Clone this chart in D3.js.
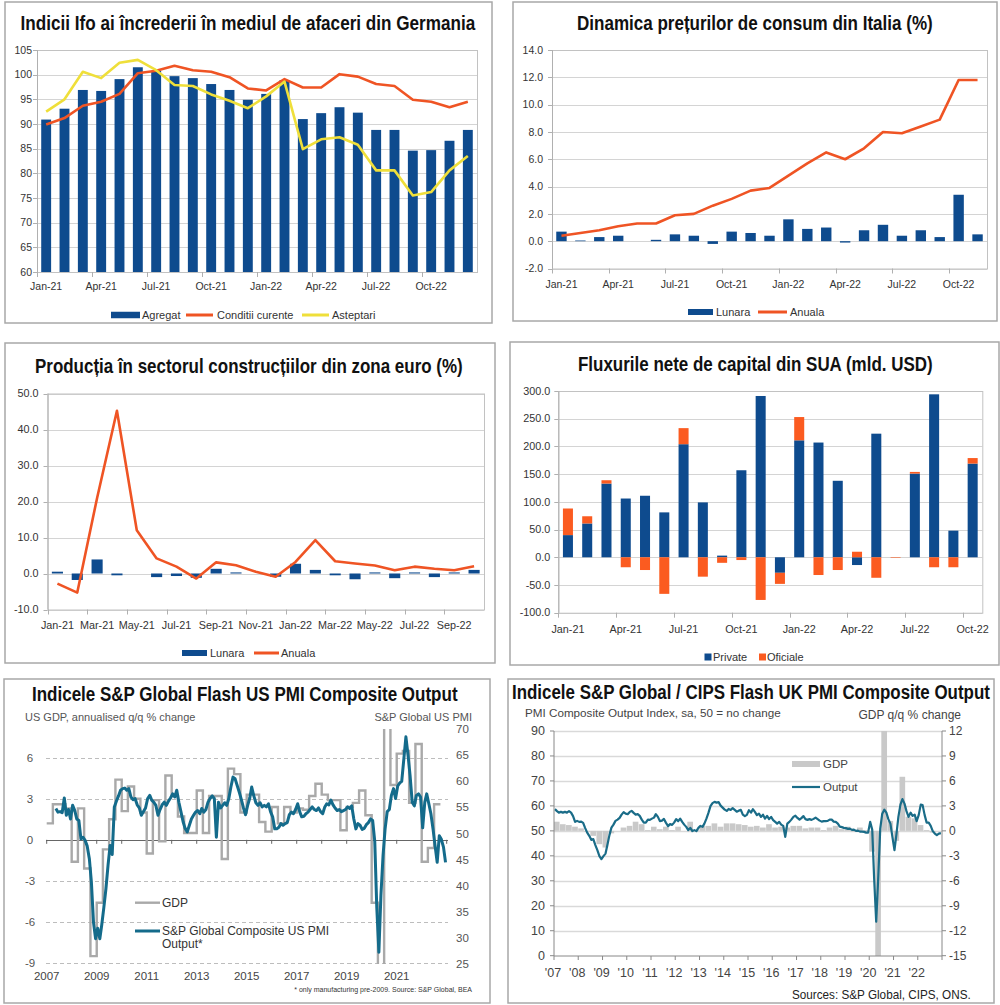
<!DOCTYPE html>
<html><head><meta charset="utf-8">
<script src="https://cdn.jsdelivr.net/npm/d3@7"></script>
<style>
body{margin:0;background:#fff}
svg{display:block}
text{font-family:'Liberation Sans',Arial,Helvetica,sans-serif}
</style>
</head><body>
<svg id="c" width="1000" height="1005"></svg>
<script>
// ---------------- DATA ----------------
// Panel 1: Ifo (Germany)
const ifoMonths = ["Jan-21","Feb-21","Mar-21","Apr-21","May-21","Jun-21","Jul-21","Aug-21","Sep-21","Oct-21","Nov-21","Dec-21","Jan-22","Feb-22","Mar-22","Apr-22","May-22","Jun-22","Jul-22","Aug-22","Sep-22","Oct-22","Nov-22","Dec-22"];
const ifoAgregat   = [90.9,93.1,96.9,96.7,99.1,101.5,100.8,99.7,99.3,98.1,96.9,94.9,96.1,98.9,91.0,92.2,93.4,92.3,88.8,88.8,84.6,84.7,86.6,88.8];
const ifoConditii  = [89.9,91.2,93.7,94.5,96.1,100.3,100.8,101.8,100.9,100.6,99.5,97.2,96.8,99.1,97.4,97.4,100.1,99.6,98.1,97.7,94.9,94.5,93.4,94.5];
const ifoAsteptari = [92.5,95.0,100.6,99.3,102.4,103.0,100.9,97.9,97.7,96.0,94.7,93.2,95.6,98.6,84.9,86.9,87.3,85.8,80.6,80.6,75.5,76.2,80.6,83.5];
const ifoTicks = [60,65,70,75,80,85,90,95,100,105];

// Panel 2: Italy CPI
const itMonths = ["Jan-21","Feb-21","Mar-21","Apr-21","May-21","Jun-21","Jul-21","Aug-21","Sep-21","Oct-21","Nov-21","Dec-21","Jan-22","Feb-22","Mar-22","Apr-22","May-22","Jun-22","Jul-22","Aug-22","Sep-22","Oct-22","Nov-22"];
const itLunara = [0.7,0.05,0.3,0.4,0.0,0.1,0.5,0.4,-0.2,0.7,0.6,0.4,1.6,0.9,1.0,-0.1,0.8,1.2,0.4,0.8,0.3,3.4,0.5];
const itAnuala = [0.4,0.6,0.8,1.1,1.3,1.3,1.9,2.0,2.6,3.1,3.7,3.9,4.8,5.7,6.5,6.0,6.8,8.0,7.9,8.4,8.9,11.8,11.8];
const itTicks = [-2,0,2,4,6,8,10,12,14];

// Panel 3: Euro area construction
const euMonths = ["Jan-21","Feb-21","Mar-21","Apr-21","May-21","Jun-21","Jul-21","Aug-21","Sep-21","Oct-21","Nov-21","Dec-21","Jan-22","Feb-22","Mar-22","Apr-22","May-22","Jun-22","Jul-22","Aug-22","Sep-22","Oct-22"];
const euLunara = [0.5,-1.8,3.9,-0.5,0.0,-1.0,-0.7,-1.2,1.3,0.3,0.0,-0.9,2.7,1.0,-0.5,-1.6,0.3,-1.3,0.3,-1.0,0.3,1.0];
const euAnuala = [-2.8,-5.3,21.0,45.2,12.0,4.2,1.9,-1.4,3.1,2.3,0.5,-0.9,3.2,9.3,3.4,2.8,2.2,0.9,1.9,1.3,0.9,2.0];
const euTicks = [-10,0,10,20,30,40,50];

// Panel 4: US net capital flows
const usfMonths = ["Jan-21","Feb-21","Mar-21","Apr-21","May-21","Jun-21","Jul-21","Aug-21","Sep-21","Oct-21","Nov-21","Dec-21","Jan-22","Feb-22","Mar-22","Apr-22","May-22","Jun-22","Jul-22","Aug-22","Sep-22","Oct-22"];
const usfPrivate  = [40,61,133,106,111,81,204,99,3,157,291,-28,211,207,138,-14,223,0,151,294,48,169];
const usfOficiale = [48,13,6,-18,-23,-66,29,-35,-10,-5,-77,-20,42,-32,-23,10,-37,-1,3,-18,-18,10];
const usfTicks = [-100,-50,0,50,100,150,200,250,300];

// Panel 5: US GDP (quarterly, from 2007 Q1) and PMI (monthly, from May 2007)
const usGdpStart = 2007;
const usGdp = [1.2,2.6,2.6,2.3, -1.6,2.3,-2.1,-8.5, -4.6,-0.7,1.5,4.4, 2.1,3.9,3.0,2.0,
  -1.0,2.9,-0.1,4.7, 3.2,1.7,0.5,0.5, 3.6,0.5,3.2,3.2, -1.4,5.2,4.8,2.0,
  3.3,3.3,1.3,0.6, 2.4,1.2,2.4,2.0, 2.3,2.2,3.2,4.1, 3.3,2.9,2.9,0.7,
  2.4,2.7,3.6,1.8, -4.6,-29.9,35.3,4.0, 6.3,6.5,2.7,7.0, -1.6,-0.6,2.6];
const usPmiStartMonth = 4; // May 2007 (0-based month)
const usPmi = [
  54.8,54.1,54.2,54.0,56.8,53.5,54.6,52.8,
  55.4,54.4,52.8,52.5,49.0,49.3,48.7,47.6,45.2,40.7,33.0,29.9,
  31.9,29.9,32.5,35.9,39.4,43.9,47.7,46.0,55.1,56.2,57.2,58.3,
  58.6,58.7,58.3,58.6,57.0,56.5,56.7,55.5,54.9,53.5,54.2,54.9,
  56.7,57.3,56.4,56.0,55.4,53.5,54.6,55.5,56.0,55.4,56.2,56.8,
  57.6,57.0,58.3,56.0,54.2,52.3,51.0,50.3,51.6,52.8,53.5,54.1,
  54.4,53.8,54.8,54.1,54.6,56.0,56.7,57.2,56.7,49.3,56.0,54.9,
  55.4,55.9,55.4,56.7,58.9,60.8,60.5,59.2,57.9,56.5,54.9,53.6,
  55.4,56.8,58.9,57.2,55.9,55.4,55.9,55.1,55.4,55.1,55.7,54.2,
  53.2,50.9,50.9,51.2,51.9,51.6,51.9,52.1,53.6,54.1,53.8,54.6,
  55.7,54.1,53.2,53.3,53.8,54.1,54.6,55.1,54.6,54.4,54.9,54.2,
  53.8,55.1,55.7,55.5,56.4,55.5,54.9,54.4,54.6,54.2,54.4,54.6,
  55.1,54.8,55.3,52.8,50.9,51.9,51.6,50.8,51.0,51.7,52.1,52.8,
  52.5,48.5,36.0,27.3,38.2,45.8,50.9,54.2,54.6,57.3,58.6,56.7,
  59.1,59.7,60.0,64.3,68.5,65.0,61.1,56.0,55.3,57.3,57.6,57.0,
  51.1,56.0,57.6,55.7,53.8,50.9,47.7,44.5,49.6,48.9,47.4,44.5];
const usYears = [2007,2009,2011,2013,2015,2017,2019,2021];
const usGdpTicks = [-9,-6,-3,0,3,6];
const usPmiTicks = [25,30,35,40,45,50,55,60,65,70];

// Panel 6: UK GDP (quarterly, from 2007 Q1) and PMI (monthly, from Jan 2007)
const ukGdp = [1.1,0.8,0.7,0.5, 0.3,-0.1,-0.6,-1.6, -2.0,-0.3,0.0,0.4, 0.6,1.1,0.8,0.1,
  0.5,0.2,0.5,0.1, 0.5,0.0,1.1,0.1, 0.6,0.6,0.9,0.5, 0.9,0.9,0.8,0.7,
  0.5,0.6,0.4,0.8, 0.4,0.5,0.4,0.6, 0.6,0.3,0.4,0.4, 0.1,0.4,0.6,0.2,
  0.5,-0.1,0.4,0.1, -2.5,-21.0,16.9,1.2, -1.2,6.5,1.7,1.5, 0.7,0.1,-0.2];
const ukPmi = [
  58.7,57.9,57.3,57.6,57.3,57.6,57.3,57.9,57.3,55.9,53.6,54.0,
  53.6,53.7,53.2,51.1,49.3,48.0,46.4,46.7,44.3,42.3,39.9,38.7,
  39.9,40.9,44.3,48.3,51.3,52.5,54.0,54.5,55.2,56.5,57.5,56.9,
  56.7,57.6,58.0,57.2,56.5,56.7,56.0,54.5,53.3,53.3,54.5,54.4,
  54.9,55.3,56.7,55.6,53.9,54.1,54.8,53.2,51.9,52.7,52.4,53.3,
  54.7,53.9,54.9,53.6,52.5,51.6,50.3,51.2,49.9,50.3,49.9,51.2,
  52.0,51.6,52.9,54.9,57.2,59.9,61.1,61.6,61.3,61.5,60.1,59.3,
  58.5,58.0,58.8,58.4,59.1,58.4,57.7,58.1,58.4,56.5,55.9,56.4,
  58.3,57.3,58.7,57.6,56.3,56.9,55.6,56.5,54.9,56.0,54.7,55.6,
  54.3,53.6,52.9,53.6,52.5,52.0,47.6,52.9,53.6,54.5,55.6,56.1,
  55.2,54.5,55.1,55.9,54.7,54.4,54.7,54.4,54.8,55.3,54.7,54.1,
  53.7,53.9,53.9,54.0,54.5,54.5,53.7,53.6,52.9,51.7,51.5,51.2,
  51.1,50.8,50.9,50.4,50.5,50.0,50.1,49.7,49.7,49.6,49.3,49.3,
  53.6,50.5,30.9,13.6,30.9,50.9,56.9,58.5,57.3,54.7,52.9,47.6,
  42.3,48.9,55.6,60.5,62.7,60.9,57.9,55.6,57.3,56.0,56.5,53.9,
  56.3,60.5,60.3,56.3,53.3,53.3,52.0,49.9,48.9,48.3,48.9,49.1];
const ukYearLabels = ["'07","'08","'09","'10","'11","'12","'13","'14","'15","'16","'17","'18","'19","'20","'21","'22"];
const ukPmiTicks = [0,10,20,30,40,50,60,70,80,90];
const ukGdpTicks = [-15,-12,-9,-6,-3,0,3,6,9,12];

// ---------------- HELPERS ----------------
const loc = d3.formatLocale({decimal:".",thousands:",",grouping:[3],currency:["",""],minus:"-"});
const f1 = loc.format(".1f"), f0 = loc.format("d");
const svg = d3.select("#c");
const TFONT = "'Liberation Sans Narrow','Arial Narrow','DejaVu Sans Condensed',sans-serif";
const BLUE = "#0e4b8e", ORANGE = "#ef5424", YELLOW = "#efdf3a";

function frame(x0,y0,x1,y1){
  svg.append("rect").attr("x",x0).attr("y",y0).attr("width",x1-x0).attr("height",y1-y0)
    .attr("fill","#fff").attr("stroke","#a8a8a8").attr("stroke-width",1.5);
}
// text fitted to a given width by a horizontal scale (no overflow of the natural box)
function fitText(t,xa,xb,base,size,weight,family,fill){
  const el = svg.append("text").attr("x",0).attr("y",0).attr("font-size",size).attr("fill",fill||"#111").text(t);
  if (weight) el.attr("font-weight",weight);
  if (family) el.attr("font-family",family);
  const w = el.node().getComputedTextLength() || 1;
  el.attr("transform",`translate(${xa},${base}) scale(${(xb-xa)/w},1)`);
  return el;
}
function title(t,xa,xb,base){ return fitText(t,xa,xb,base,20,"bold",TFONT,"#111"); }
function txt(t,x,y,size,anchor,fill){
  return svg.append("text").attr("x",x).attr("y",y).attr("font-size",size).attr("text-anchor",anchor||"start")
    .attr("fill",fill||"#333").text(t);
}
function legRect(x,y,w,h,c,label,tx,size){
  svg.append("rect").attr("x",x).attr("y",y-h/2).attr("width",w).attr("height",h).attr("fill",c);
  txt(label,tx,y+4,size||11,"start","#333");
}
function legLine(x,y,w,c,label,tx,size,sw){
  svg.append("line").attr("x1",x).attr("x2",x+w).attr("y1",y).attr("y2",y).attr("stroke",c).attr("stroke-width",sw||3);
  txt(label,tx,y+4,size||11,"start","#333");
}

function catChart(o){
  const x = d3.scaleBand().domain(o.cats).range([o.L,o.R]).paddingInner(o.pi).paddingOuter(o.pi/2);
  const y = d3.scaleLinear().domain(o.yDomain).range([o.B,o.T]);
  const g = svg.append("g");
  g.selectAll(null).data(o.yTicks).join("line").attr("x1",o.L).attr("x2",o.R)
    .attr("y1",d=>Math.round(y(d))+0.5).attr("y2",d=>Math.round(y(d))+0.5).attr("stroke","#d4d4d4");
  g.append("rect").attr("x",o.L+0.5).attr("y",o.T+0.5).attr("width",o.R-o.L).attr("height",o.B-o.T)
    .attr("fill","none").attr("stroke","#c2c2c2");
  g.append("line").attr("x1",o.L+0.5).attr("x2",o.L+0.5).attr("y1",o.T).attr("y2",o.B).attr("stroke","#b0b0b0");
  g.selectAll(null).data(o.yTicks).join("line").attr("x1",o.L-4).attr("x2",o.L)
    .attr("y1",d=>Math.round(y(d))+0.5).attr("y2",d=>Math.round(y(d))+0.5).attr("stroke","#b0b0b0");
  g.selectAll(null).data(o.yTicks).join("text").attr("x",o.L-o.gap).attr("y",d=>y(d)).attr("dy","0.35em")
    .attr("text-anchor","end").attr("font-size",o.fs).attr("fill","#333").text(o.yFmt);
  const lab = o.cats.filter((c,i)=>i%o.every===0);
  const cx = d=>x(d)+x.bandwidth()/2;
  g.selectAll(null).data(lab).join("text").attr("x",cx).attr("y",o.labBase)
    .attr("text-anchor","middle").attr("font-size",o.fs).attr("fill","#333").text(d=>d);
  g.selectAll(null).data(lab).join("line").attr("x1",d=>Math.round(cx(d)-x.step()/2)+0.5).attr("x2",d=>Math.round(cx(d)-x.step()/2)+0.5)
    .attr("y1",o.B).attr("y2",o.B+5).attr("stroke","#b0b0b0");
  return {x,y,g,cx};
}
function drawLine(g,cats,vals,cx,y,color,w){
  g.append("path").datum(cats.map((c,i)=>({c,v:vals[i]})))
    .attr("d",d3.line().x(d=>cx(d.c)).y(d=>y(d.v))).attr("fill","none")
    .attr("stroke",color).attr("stroke-width",w||2.6).attr("stroke-linejoin","round");
}
function drawBars(g,cats,vals,x,y,color){
  g.selectAll(null).data(cats.map((c,i)=>({c,v:vals[i]}))).join("rect")
    .attr("x",d=>x(d.c)).attr("width",x.bandwidth())
    .attr("y",d=>Math.min(y(0),y(d.v))).attr("height",d=>Math.abs(y(d.v)-y(0)))
    .attr("fill",color);
}

// ---------------- PANEL 1 ----------------
frame(5,2,492,323);
title("Indicii Ifo ai încrederii în mediul de afaceri din Germania",20.5,475.5,30);
{
  const c = catChart({cats:ifoMonths,L:37,R:477,T:50,B:272,yDomain:[60,105],yTicks:ifoTicks,yFmt:f0,
    every:3,labBase:290,pi:0.46,gap:5,fs:10.5});
  const {x,y,g,cx} = c;
  g.selectAll(null).data(ifoMonths.map((m,i)=>({m,v:ifoAgregat[i]}))).join("rect")
    .attr("x",d=>x(d.m)).attr("width",x.bandwidth()).attr("y",d=>y(d.v)).attr("height",d=>y(60)-y(d.v)).attr("fill",BLUE);
  drawLine(g,ifoMonths,ifoConditii,cx,y,ORANGE);
  drawLine(g,ifoMonths,ifoAsteptari,cx,y,YELLOW);
  legRect(111,315,29,6.5,BLUE,"Agregat",142);
  legLine(186,315,27,ORANGE,"Conditii curente",217);
  legLine(302,315,27,YELLOW,"Asteptari",332);
}

// ---------------- PANEL 2 ----------------
frame(513,2,997,321);
title("Dinamica prețurilor de consum din Italia (%)",577,933,30);
{
  const {x,y,g,cx} = catChart({cats:itMonths,L:552,R:987,T:50,B:268.5,yDomain:[-2,14],yTicks:itTicks,yFmt:f1,
    every:3,labBase:288,pi:0.45,gap:9,fs:10.5});
  drawBars(g,itMonths,itLunara,x,y,BLUE);
  drawLine(g,itMonths,itAnuala,cx,y,ORANGE);
  legRect(688,312,25,6,BLUE,"Lunara",716);
  legLine(758,312,29,ORANGE,"Anuala",790);
}

// ---------------- PANEL 3 ----------------
frame(5,343,495,663);
title("Producția în sectorul construcțiilor din zona euro (%)",35,463,373);
{
  const {x,y,g,cx} = catChart({cats:euMonths,L:47.5,R:484,T:393.5,B:609.5,yDomain:[-10,50],yTicks:euTicks,yFmt:f1,
    every:2,labBase:629,pi:0.44,gap:9,fs:10.8});
  drawBars(g,euMonths,euLunara,x,y,BLUE);
  drawLine(g,euMonths,euAnuala,cx,y,ORANGE);
  legRect(182,653,25,6,BLUE,"Lunara",210);
  legLine(254,653,25,ORANGE,"Anuala",281);
}

// ---------------- PANEL 4 ----------------
frame(510,342,999,665);
title("Fluxurile nete de capital din SUA (mld. USD)",578,933,371);
{
  const {x,y,g} = catChart({cats:usfMonths,L:558.3,R:982.3,T:391,B:612.7,yDomain:[-100,300],yTicks:usfTicks,yFmt:f1,
    every:3,labBase:633,pi:0.48,gap:8,fs:10.8});
  const rows = usfMonths.map((m,i)=>({m,Private:usfPrivate[i],Oficiale:usfOficiale[i]}));
  const series = d3.stack().keys(["Private","Oficiale"]).offset(d3.stackOffsetDiverging)(rows);
  const col = {Private:BLUE,Oficiale:"#fb5b20"};
  series.forEach(s=>{
    g.selectAll(null).data(s).join("rect").attr("x",d=>x(d.data.m)).attr("width",x.bandwidth())
      .attr("y",d=>y(Math.max(d[0],d[1]))).attr("height",d=>Math.abs(y(d[0])-y(d[1]))).attr("fill",col[s.key]);
  });
  svg.append("rect").attr("x",704.5).attr("y",653.5).attr("width",7).attr("height",7).attr("fill",BLUE);
  txt("Private",713,661,11,"start","#333");
  svg.append("rect").attr("x",759).attr("y",653.5).attr("width",7).attr("height",7).attr("fill","#fb5b20");
  txt("Oficiale",767,661,11,"start","#333");
}

// ---------------- PANEL 5 ----------------
frame(4,679,490,1003);
title("Indicele S&P Global Flash US PMI Composite Output",32,458,701);
{
  const x = d3.scaleUtc().domain([new Date(Date.UTC(2007,0,1)),new Date(Date.UTC(2023,0,1))]).range([46.7,446.7]);
  const yL = d3.scaleLinear().domain([-9,6]).range([963,757.7]);
  const yR = d3.scaleLinear().domain([25,70]).range([964.3,729]);
  const g = svg.append("g");
  txt("US GDP, annualised q/q % change",25,721,11,"start","#555");
  txt("S&P Global US PMI",472,721,11,"end","#555");
  g.selectAll(null).data(usGdpTicks.filter(d=>d!==0)).join("line").attr("x1",46).attr("x2",448)
    .attr("y1",d=>Math.round(yL(d))+0.5).attr("y2",d=>Math.round(yL(d))+0.5)
    .attr("stroke","#bdbdbd").attr("stroke-dasharray","4,3");
  g.append("line").attr("x1",46).attr("x2",448).attr("y1",Math.round(yL(0))+0.5).attr("y2",Math.round(yL(0))+0.5).attr("stroke","#666");
  const yrs = d3.range(2007,2024);
  g.selectAll(null).data(yrs).join("line").attr("x1",d=>x(new Date(Date.UTC(d,0,1)))).attr("x2",d=>x(new Date(Date.UTC(d,0,1))))
    .attr("y1",yL(0)).attr("y2",yL(0)+4).attr("stroke","#666");
  g.selectAll(null).data(usGdpTicks).join("text").attr("x",30).attr("y",d=>yL(d)).attr("dy","0.35em")
    .attr("text-anchor","middle").attr("font-size",11.5).attr("fill","#555").text(f0);
  g.selectAll(null).data(usPmiTicks).join("text").attr("x",456).attr("y",d=>yR(d)).attr("dy","0.35em")
    .attr("font-size",11.5).attr("fill","#555").text(f0);
  g.selectAll(null).data(usYears).join("text").attr("x",d=>x(new Date(Date.UTC(d,0,1)))).attr("y",980)
    .attr("text-anchor","middle").attr("font-size",11.5).attr("fill","#444").text(d=>d);
  svg.append("clipPath").attr("id","clip5").append("rect").attr("x",40).attr("y",729).attr("width",420).attr("height",235);
  const gdpPts = usGdp.map((v,i)=>({d:new Date(Date.UTC(usGdpStart,3*i,1)),v}));
  gdpPts.push({d:new Date(Date.UTC(usGdpStart,3*usGdp.length,1)),v:usGdp[usGdp.length-1]});
  g.append("path").datum(gdpPts).attr("clip-path","url(#clip5)")
    .attr("d",d3.line().x(d=>x(d.d)).y(d=>yL(d.v)).curve(d3.curveStepAfter))
    .attr("fill","none").attr("stroke","#a9a9a9").attr("stroke-width",2.4);
  const pmiPts = usPmi.map((v,i)=>({d:new Date(Date.UTC(2007,usPmiStartMonth+i,15)),v}));
  g.append("path").datum(pmiPts).attr("clip-path","url(#clip5)")
    .attr("d",d3.line().x(d=>x(d.d)).y(d=>yR(d.v)))
    .attr("fill","none").attr("stroke","#146b8b").attr("stroke-width",3).attr("stroke-linejoin","round");
  legLine(135,902.7,25,"#a9a9a9","GDP",162,12,2.4);
  legLine(135,931,25,"#146b8b","S&P Global Composite US PMI",162,12,3);
  txt("Output*",162,948,12,"start","#333");
  txt("* only manufacturing pre-2009. Source: S&P Global, BEA",472,991.5,7,"end","#333");
}

// ---------------- PANEL 6 ----------------
frame(508,679,994,1003);
title("Indicele S&P Global / CIPS Flash UK PMI Composite Output",512,990,699);
{
  const x = d3.scaleUtc().domain([new Date(Date.UTC(2007,0,1)),new Date(Date.UTC(2023,0,1))]).range([554,942]);
  const yL = d3.scaleLinear().domain([0,90]).range([955.7,731]);
  const yR = d3.scaleLinear().domain([-15,12]).range([955.7,731]);
  const g = svg.append("g");
  fitText("PMI Composite Output Index, sa, 50 = no change",525,781,717,11.5,null,null,"#444");
  txt("GDP q/q % change",961,719,12,"end","#444");
  g.selectAll(null).data(ukPmiTicks.filter(d=>d>0)).join("line").attr("x1",554).attr("x2",942)
    .attr("y1",d=>Math.round(yL(d))+0.5).attr("y2",d=>Math.round(yL(d))+0.5).attr("stroke","#d9d9d9").attr("stroke-width",1.3);
  svg.append("clipPath").attr("id","clip6").append("rect").attr("x",554).attr("y",731).attr("width",388).attr("height",225);
  const q = ukGdp.map((v,i)=>({a:new Date(Date.UTC(2007,3*i,1)),b:new Date(Date.UTC(2007,3*i+3,1)),v}));
  g.append("g").attr("clip-path","url(#clip6)").selectAll("rect").data(q).join("rect")
    .attr("x",d=>x(d.a)).attr("width",d=>x(d.b)-x(d.a)-0.4)
    .attr("y",d=>Math.min(yR(0),yR(d.v))).attr("height",d=>Math.abs(yR(d.v)-yR(0))).attr("fill","#c9c9c9");
  const pts = ukPmi.map((v,i)=>({d:new Date(Date.UTC(2007,i,15)),v}));
  g.append("path").datum(pts).attr("d",d3.line().x(d=>x(d.d)).y(d=>yL(d.v)))
    .attr("fill","none").attr("stroke","#1a6c88").attr("stroke-width",2.2).attr("stroke-linejoin","round");
  // axes
  g.append("line").attr("x1",554).attr("x2",554).attr("y1",731).attr("y2",956).attr("stroke","#888");
  g.append("line").attr("x1",942).attr("x2",942).attr("y1",731).attr("y2",956).attr("stroke","#888");
  g.append("line").attr("x1",554).attr("x2",942).attr("y1",956).attr("y2",956).attr("stroke","#888");
  g.selectAll(null).data(ukPmiTicks).join("line").attr("x1",550).attr("x2",554)
    .attr("y1",d=>yL(d)).attr("y2",d=>yL(d)).attr("stroke","#888");
  g.selectAll(null).data(ukGdpTicks).join("line").attr("x1",942).attr("x2",946)
    .attr("y1",d=>yR(d)).attr("y2",d=>yR(d)).attr("stroke","#888");
  g.selectAll(null).data(d3.range(2007,2024)).join("line").attr("x1",d=>x(new Date(Date.UTC(d,0,1)))).attr("x2",d=>x(new Date(Date.UTC(d,0,1))))
    .attr("y1",956).attr("y2",960).attr("stroke","#888");
  g.selectAll(null).data(ukPmiTicks).join("text").attr("x",545).attr("y",d=>yL(d)).attr("dy","0.35em")
    .attr("text-anchor","end").attr("font-size",12.5).attr("fill","#444").text(f0);
  g.selectAll(null).data(ukGdpTicks).join("text").attr("x",949).attr("y",d=>yR(d)).attr("dy","0.35em")
    .attr("font-size",12).attr("fill","#444").text(f0);
  g.selectAll(null).data(ukYearLabels).join("text").attr("x",(d,i)=>x(new Date(Date.UTC(2007+i,0,1)))-1).attr("y",977)
    .attr("text-anchor","middle").attr("font-size",12.5).attr("fill","#444").text(d=>d);
  svg.append("rect").attr("x",792).attr("y",761).attr("width",28).attr("height",6).attr("fill","#c9c9c9");
  txt("GDP",823,768,11.5,"start","#444");
  svg.append("line").attr("x1",792).attr("x2",820).attr("y1",787).attr("y2",787).attr("stroke","#1a6c88").attr("stroke-width",2.2);
  txt("Output",823,791,11.5,"start","#444");
  fitText("Sources: S&P Global, CIPS, ONS.",792,971,999,13,null,null,"#222");
}
</script>
</body></html>
